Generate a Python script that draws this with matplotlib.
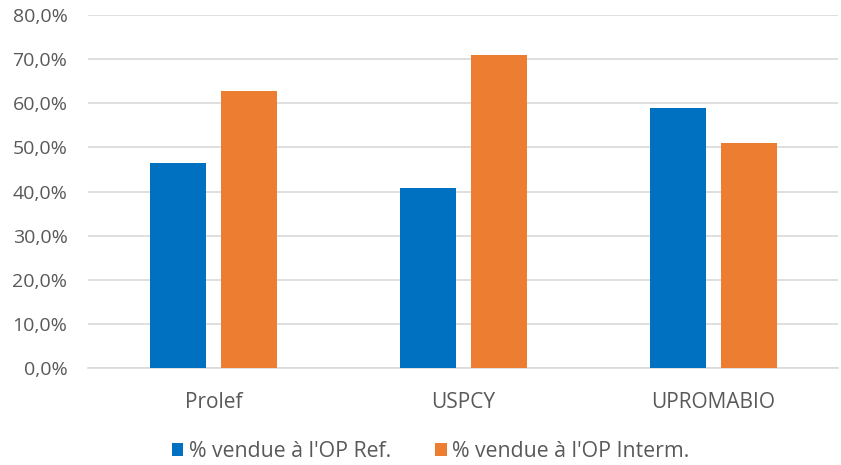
import numpy as np
import matplotlib.pyplot as plt
from matplotlib.ticker import FuncFormatter

categories = ['Prolef', 'USPCY', 'UPROMABIO']
op_ref = [46.5, 40.8, 59.0]
op_interm = [62.8, 71.0, 51.0]
series_names = ["% vendue à l'OP Ref.", "% vendue à l'OP Interm."]

plt.rcParams['font.family'] = ['Open Sans', 'DejaVu Sans']
grey = '#595959'

fig = plt.figure(figsize=(8.41, 4.65), dpi=100)
ax = fig.add_axes([0.105, 0.2086, 0.892, 0.7591])

x = np.arange(len(categories))
w = 0.224
off = 0.142
ax.bar(x - off, op_ref, w, color='#0070C0', label=series_names[0], zorder=3)
ax.bar(x + off, op_interm, w, color='#ED7D31', label=series_names[1], zorder=3)

ax.set_xlim(-0.5, 2.5)
ax.set_ylim(0, 80)
ax.set_yticks(np.arange(0, 81, 10))
ax.yaxis.set_major_formatter(FuncFormatter(lambda v, p: f"{v:.1f}%".replace('.', ',')))
ax.set_xticks(x)
ax.set_xticklabels(categories)
ax.grid(axis='y', color='#D9D9D9', linewidth=1.2, zorder=0)
for s in ['top', 'right', 'left']:
    ax.spines[s].set_visible(False)
ax.spines['bottom'].set_color('#D9D9D9')
ax.spines['bottom'].set_linewidth(1.2)
ax.tick_params(axis='both', length=0, colors=grey)
ax.tick_params(axis='y', pad=15, labelsize=14)
ax.tick_params(axis='x', pad=17, labelsize=15)

leg = fig.legend(loc='lower center', bbox_to_anchor=(0.512, -0.035), ncol=2, frameon=False,
                 fontsize=15.3, handlelength=0.55, handleheight=0.55, handletextpad=0.25,
                 columnspacing=2.1)
for t in leg.get_texts():
    t.set_color(grey)

fig.savefig('out.png', dpi=100)
